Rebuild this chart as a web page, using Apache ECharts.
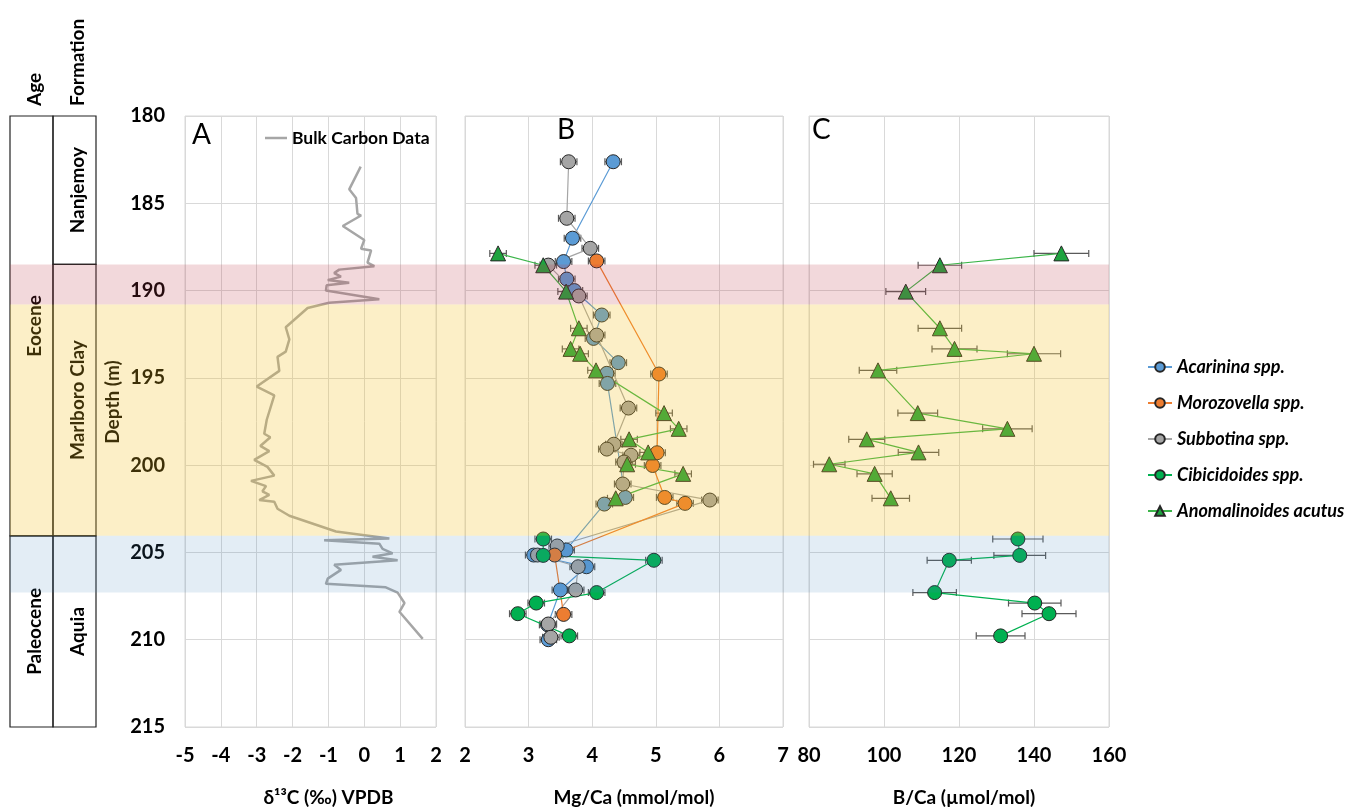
<!DOCTYPE html>
<html><head><meta charset="utf-8">
<script src="https://cdn.jsdelivr.net/npm/echarts@6/dist/echarts.min.js"></script>
<style>html,body{margin:0;padding:0;background:#fff}#chart{width:1353px;height:810px}</style>
</head><body><div id="chart"></div>
<script>
// ---------- DATA ----------
const DEPTH_TICKS = [180, 215, 5];
const COLUMN_HEADERS = ['Age', 'Formation'];
const AGE_NAMES = ['Eocene', 'Paleocene'];
const AGE_TOP = [180, 204.05];
const AGE_BOTTOM = [204.05, 215];
const FORM_NAMES = ['Nanjemoy', 'Marlboro Clay', 'Aquia'];
const FORM_TOP = [180, 188.5, 204.05];
const FORM_BOTTOM = [188.5, 204.05, 215];
const BAND_TOP = [188.5, 190.8, 204.05];
const BAND_BOTTOM = [190.8, 204.05, 207.3];

// Panel A: bulk carbon isotopes
const C13_DEPTH = [182.9,184.2,184.7,185.6,185.7,186.3,187.1,187.6,187.7,188.4,188.6,188.8,189.0,189.2,189.4,189.55,189.7,190.0,190.5,190.7,191.0,192.1,192.8,193.5,193.8,194.6,195.5,196.0,197.4,198.2,198.4,198.9,199.2,199.7,200.1,200.6,200.9,201.2,201.5,201.7,202.0,202.1,202.5,202.9,203.8,204.2,204.3,204.5,204.8,205.05,205.25,205.45,205.7,206.0,206.5,206.8,207.0,207.3,207.9,208.4,209.95];
const C13_VALUE = [-0.1,-0.42,-0.23,-0.19,-0.09,-0.6,0.0,-0.09,0.19,0.09,0.28,-0.7,-0.84,-0.65,-1.02,-0.42,-1.05,-1.07,0.42,-0.98,-1.58,-2.19,-2.09,-2.19,-2.42,-2.37,-3.0,-2.51,-2.72,-2.79,-2.62,-2.9,-2.65,-3.07,-2.7,-2.51,-3.16,-2.74,-2.84,-2.65,-2.93,-2.51,-2.42,-2.09,-0.79,0.7,-1.12,0.42,0.51,0.79,0.23,0.93,-0.84,-0.65,-1.02,-1.07,0.6,0.93,1.12,0.98,1.63];

// Panel B: Mg/Ca
const ACA_DEPTH = [182.62,187.0,188.34,189.34,190.0,191.4,192.74,194.13,194.74,195.32,201.85,202.23,204.86,205.15,205.82,207.15,209.15,210.0];
const ACA_MG = [4.33,3.69,3.55,3.60,3.72,4.15,4.02,4.41,4.23,4.24,4.52,4.19,3.59,3.08,3.91,3.50,3.30,3.31];
const SUB_DEPTH = [182.62,185.86,187.58,188.54,190.31,192.55,196.73,198.8,199.08,199.43,199.82,201.08,202.0,204.63,205.15,205.82,207.15,209.1,209.86];
const SUB_MG = [3.63,3.60,3.97,3.31,3.79,4.07,4.57,4.34,4.23,4.61,4.50,4.48,5.85,3.45,3.14,3.78,3.74,3.31,3.35];
const MOR_DEPTH = [188.3,194.78,199.29,200.02,201.85,202.19,205.15,208.55];
const MOR_MG = [4.07,5.05,5.02,4.95,5.14,5.46,3.41,3.55];
const ANO_DEPTH = [187.87,188.55,190.06,192.16,193.34,193.62,194.57,197.02,197.92,198.52,199.27,199.95,200.5,201.9];
const ANO_MG = [2.52,3.23,3.59,3.79,3.66,3.81,4.06,5.13,5.36,4.58,4.88,4.55,5.43,4.37];
const CIB_DEPTH = [204.23,205.17,205.45,207.3,207.9,208.51,209.78];
const CIB_MG = [3.23,3.23,4.97,4.07,3.12,2.83,3.64];
const MGCA_ERR = 0.13;

// Panel C: B/Ca
const ANO_B = [147.3,114.9,105.8,114.9,118.8,140.0,98.4,109.0,132.9,95.4,109.2,85.4,97.5,101.8];
const ANO_B_ERR = [7.3,5.8,5.3,5.8,6.0,7.1,5.0,5.3,6.6,4.8,5.4,4.2,4.7,5.0];
const CIB_B = [135.7,136.2,117.4,113.5,140.2,144.0,131.1];
const CIB_B_ERR = [6.7,6.9,5.9,5.8,7.0,7.2,6.5];

const SPECIES = ['Acarinina spp.', 'Morozovella spp.', 'Subbotina spp.', 'Cibicidoides spp.', 'Anomalinoides acutus'];

// ---------- STYLE ----------
const FONT = 'Lato';
const BAND_FILL = ['rgba(190,60,75,0.2)', 'rgba(243,191,31,0.25)', 'rgba(70,135,190,0.15)'];
const COL = {aca:'#5b9bd5', mor:'#ed7d31', sub:'#a5a5a5', cib:'#00b050', ano:'#1ea33f', anoLine:'#3cb54a'};
const GRIDLINE = '#d9d9d9';
const TOP = 116, HEIGHT = 611;

const zip = (xs, ys) => xs.map((x, i) => [x, ys[i]]);
const zipErr = (xs, ys, es) => xs.map((x, i) => [x, ys[i], Array.isArray(es) ? es[i] : es]);

function errRender(params, api) {
  const x = api.value(0), y = api.value(1), e = api.value(2);
  const p1 = api.coord([x - e, y]), p2 = api.coord([x + e, y]);
  const cap = 3.5;
  const style = {stroke: '#5a5a5a', lineWidth: 1.2};
  return {type: 'group', children: [
    {type: 'line', shape: {x1: p1[0], y1: p1[1], x2: p2[0], y2: p2[1]}, style},
    {type: 'line', shape: {x1: p1[0], y1: p1[1] - cap, x2: p1[0], y2: p1[1] + cap}, style},
    {type: 'line', shape: {x1: p2[0], y1: p2[1] - cap, x2: p2[0], y2: p2[1] + cap}, style}
  ]};
}

const UNITS = [];
AGE_NAMES.forEach((n, i) => UNITS.push({col: 0, top: AGE_TOP[i], bot: AGE_BOTTOM[i], name: n}));
FORM_NAMES.forEach((n, i) => UNITS.push({col: 1, top: FORM_TOP[i], bot: FORM_BOTTOM[i], name: n}));

function unitRender(params, api) {
  const u = UNITS[params.dataIndex];
  const w = api.size([1, 0])[0];
  const pt = api.coord([api.value(0), api.value(1)]);
  const pb = api.coord([api.value(0), api.value(2)]);
  const children = [
    {type: 'rect', shape: {x: pt[0] - w / 2, y: pt[1], width: w, height: pb[1] - pt[1]},
     style: {fill: 'none', stroke: '#222', lineWidth: 1.2}},
    {type: 'text', x: pt[0] + 3, y: (pt[1] + pb[1]) / 2, rotation: Math.PI / 2,
     style: {text: u.name, font: 'bold 19px ' + FONT, fill: '#000', align: 'center', verticalAlign: 'middle'}}
  ];
  if (u.top === DEPTH_TICKS[0]) {
    children.push({type: 'text', x: pt[0] + 3, y: pt[1] - 10, rotation: Math.PI / 2,
      style: {text: COLUMN_HEADERS[u.col], font: 'bold 19px ' + FONT, fill: '#000', align: 'left', verticalAlign: 'middle'}});
  }
  return {type: 'group', children};
}

function bandRender(params, api) {
  const p1 = api.coord([0, api.value(0)]);
  const p2 = api.coord([1, api.value(1)]);
  return {type: 'rect', shape: {x: p1[0], y: p1[1], width: p2[0] - p1[0], height: p2[1] - p1[1]},
          style: {fill: BAND_FILL[params.dataIndex]}};
}

const grid = (left, width) => ({left, width, top: TOP, height: HEIGHT, show: true, borderColor: GRIDLINE, borderWidth: 1,
  containLabel: false, outerBoundsMode: 'none'});

const depthAxis = (gi, showLabel) => ({
  type: 'value', gridIndex: gi, inverse: true, min: DEPTH_TICKS[0], max: DEPTH_TICKS[1], interval: DEPTH_TICKS[2],
  axisLine: {show: false}, axisTick: {show: false},
  axisLabel: {show: showLabel, fontFamily: FONT, fontSize: 20, fontWeight: 'bold', color: '#000', margin: 20},
  splitLine: {show: true, lineStyle: {color: GRIDLINE, width: 1}}
});

const valAxis = (gi, min, max, interval, name, pad) => ({
  type: 'value', gridIndex: gi, min, max, interval, position: 'bottom',
  axisLine: {show: false}, axisTick: {show: false},
  axisLabel: {fontFamily: FONT, fontSize: 20, fontWeight: 'bold', color: '#000', margin: 19},
  splitLine: {show: true, lineStyle: {color: GRIDLINE, width: 1}},
  name, nameLocation: 'middle', nameGap: 61,
  nameTextStyle: {fontFamily: FONT, fontSize: 19, fontWeight: 'bold', color: '#000', padding: pad || 0}
});

const markerStyle = (c) => ({color: c, borderColor: '#262626', borderWidth: 1});

const lineSeries = (name, xi, data, color, symbol, lineColor) => ({
  type: 'line', name, xAxisIndex: xi, yAxisIndex: xi, data,
  symbol, symbolSize: symbol === 'triangle' ? 15 : 14, showSymbol: true,
  itemStyle: markerStyle(color), lineStyle: {color: lineColor || color, width: 1.2},
  z: 3, silent: true
});
const errSeries = (xi, data) => ({
  type: 'custom', name: 'err', xAxisIndex: xi, yAxisIndex: xi, data, renderItem: errRender,
  encode: {x: 0, y: 1}, z: 2, silent: true
});

const option = {
  animation: false,
  textStyle: {fontFamily: FONT},
  title: [
    {text: 'A', left: 192, top: 121, padding: 0, textStyle: {fontFamily: FONT, fontSize: 28, fontWeight: 'normal', color: '#000'}},
    {text: 'B', left: 557, top: 116, padding: 0, textStyle: {fontFamily: FONT, fontSize: 28, fontWeight: 'normal', color: '#000'}},
    {text: 'C', left: 812, top: 116, padding: 0, textStyle: {fontFamily: FONT, fontSize: 28, fontWeight: 'normal', color: '#000'}}
  ],
  legend: [
    {data: [{name: 'Bulk Carbon Data', icon: 'rect'}], left: 265, top: 127, padding: 0, itemWidth: 22, itemHeight: 2.5,
     itemStyle: {color: '#a6a6a6'},
     textStyle: {fontFamily: FONT, fontSize: 17.5, fontWeight: 'bold', color: '#000', lineHeight: 22}},
    {data: SPECIES, orient: 'vertical', left: 1147, top: 356, padding: 0, itemGap: 14, itemWidth: 24, itemHeight: 12,
     textStyle: {fontFamily: FONT, fontSize: 18, fontWeight: 'bold', fontStyle: 'italic', color: '#000', lineHeight: 22}}
  ],
  graphic: [
    {type: 'text', x: 113, y: 402, rotation: Math.PI / 2, z: 0,
     style: {text: 'Depth (m)', font: 'bold 19px ' + FONT, fill: '#000', align: 'center', verticalAlign: 'middle'}}
  ],
  grid: [
    {left: 10, width: 86, top: TOP, height: HEIGHT, containLabel: false, outerBoundsMode: 'none'},
    grid(185, 251),
    grid(465, 318),
    grid(809, 300),
    {left: 10, width: 1099, top: TOP, height: HEIGHT, containLabel: false, outerBoundsMode: 'none'}
  ],
  xAxis: [
    {type: 'category', gridIndex: 0, data: COLUMN_HEADERS, position: 'top',
     axisLine: {show: false}, axisTick: {show: false}, splitLine: {show: false}, axisLabel: {show: false}},
    valAxis(1, -5, 2, 1, 'δ¹³C (‰) VPDB', [0, 0, 0, 36]),
    valAxis(2, 2, 7, 1, 'Mg/Ca (mmol/mol)', [0, 0, 0, 20]),
    valAxis(3, 80, 160, 20, 'B/Ca (µmol/mol)', [0, 0, 0, 10]),
    {type: 'value', gridIndex: 4, min: 0, max: 1, show: false}
  ],
  yAxis: [
    {type: 'value', gridIndex: 0, inverse: true, min: DEPTH_TICKS[0], max: DEPTH_TICKS[1], show: false},
    depthAxis(1, true),
    depthAxis(2, false),
    depthAxis(3, false),
    {type: 'value', gridIndex: 4, inverse: true, min: DEPTH_TICKS[0], max: DEPTH_TICKS[1], show: false}
  ],
  series: [
    {type: 'line', name: 'Bulk Carbon Data', xAxisIndex: 1, yAxisIndex: 1, data: zip(C13_VALUE, C13_DEPTH),
     symbol: 'none', lineStyle: {color: '#a6a6a6', width: 2.5}, itemStyle: {color: '#a6a6a6'}, z: 3, silent: true},

    lineSeries('Acarinina spp.', 2, zip(ACA_MG, ACA_DEPTH), COL.aca, 'circle'),
    lineSeries('Subbotina spp.', 2, zip(SUB_MG, SUB_DEPTH), COL.sub, 'circle'),
    lineSeries('Morozovella spp.', 2, zip(MOR_MG, MOR_DEPTH), COL.mor, 'circle'),
    lineSeries('Cibicidoides spp.', 2, zip(CIB_MG, CIB_DEPTH), COL.cib, 'circle'),
    lineSeries('Anomalinoides acutus', 2, zip(ANO_MG, ANO_DEPTH), COL.ano, 'triangle', COL.anoLine),
    errSeries(2, zipErr(ACA_MG, ACA_DEPTH, MGCA_ERR)),
    errSeries(2, zipErr(SUB_MG, SUB_DEPTH, MGCA_ERR)),
    errSeries(2, zipErr(MOR_MG, MOR_DEPTH, MGCA_ERR)),
    errSeries(2, zipErr(CIB_MG, CIB_DEPTH, MGCA_ERR)),
    errSeries(2, zipErr(ANO_MG, ANO_DEPTH, MGCA_ERR)),

    lineSeries('Anomalinoides acutus', 3, zip(ANO_B, ANO_DEPTH), COL.ano, 'triangle', COL.anoLine),
    lineSeries('Cibicidoides spp.', 3, zip(CIB_B, CIB_DEPTH), COL.cib, 'circle'),
    errSeries(3, zipErr(ANO_B, ANO_DEPTH, ANO_B_ERR)),
    errSeries(3, zipErr(CIB_B, CIB_DEPTH, CIB_B_ERR)),

    {type: 'custom', name: 'units', xAxisIndex: 0, yAxisIndex: 0, silent: true, z: 1, clip: false,
     data: UNITS.map(u => [u.col, u.top, u.bot]), encode: {x: 0, y: [1, 2]}, renderItem: unitRender},
    {type: 'custom', name: 'bands', xAxisIndex: 4, yAxisIndex: 4, silent: true, z: 50,
     data: BAND_TOP.map((t, i) => [t, BAND_BOTTOM[i]]), encode: {y: [0, 1]}, renderItem: bandRender, clip: false}
  ]
};

const chart = echarts.init(document.getElementById('chart'), null, {renderer: 'canvas'});
chart.setOption(option);
</script></body></html>
